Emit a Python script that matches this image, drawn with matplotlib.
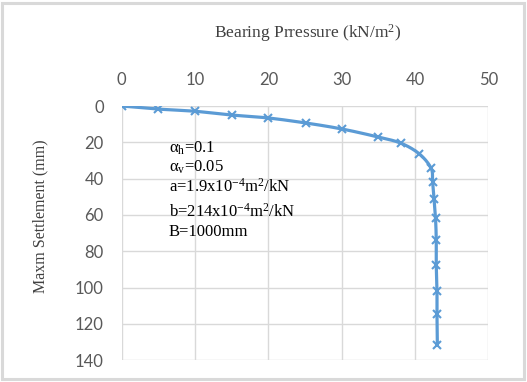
import numpy as np
import matplotlib.pyplot as plt
from matplotlib.patches import Rectangle

# bearing pressure (kN/m2) vs maximum settlement (mm)
pressure = [0, 5.0, 10.0, 15.1, 20.0, 25.2, 30.1, 35.0, 38.1, 40.6, 42.2,
            42.4, 42.6, 42.8, 42.9, 42.9, 43.0, 43.0, 43.05]
settlement = [0, 1.7, 2.9, 5.0, 6.6, 9.4, 12.7, 17.1, 20.5, 26.4, 34.3,
              41.7, 51.2, 61.7, 73.8, 87.4, 101.9, 114.4, 131.6]

x_ticks = [0, 10, 20, 30, 40, 50]
y_ticks = [0, 20, 40, 60, 80, 100, 120, 140]

notes = [r'$\mathrm{\alpha_h}$=0.1',
         r'$\mathrm{\alpha_v}$=0.05',
         r'a=1.9x10$^{\mathrm{-4}}$m$^2$/kN',
         r'b=214x10$^{\mathrm{-4}}$m$^2$/kN',
         'B=1000mm']

plt.rcParams['mathtext.fontset'] = 'custom'
plt.rcParams['mathtext.rm'] = 'Liberation Serif'
plt.rcParams['mathtext.it'] = 'Liberation Serif'


def smooth(xs, ys, n=20):
    # catmull-rom, roughly what excel does for smoothed lines
    p = np.column_stack([xs, ys])
    p = np.vstack([p[0], p, p[-1]])
    out = []
    for i in range(1, len(p) - 2):
        p0, p1, p2, p3 = p[i - 1], p[i], p[i + 1], p[i + 2]
        for t in np.linspace(0, 1, n, endpoint=False):
            t2, t3 = t * t, t * t * t
            out.append(0.5 * ((2 * p1) + (-p0 + p2) * t +
                              (2 * p0 - 5 * p1 + 4 * p2 - p3) * t2 +
                              (-p0 + 3 * p1 - 3 * p2 + p3) * t3))
    out.append(p[-2])
    out = np.array(out)
    return out[:, 0], out[:, 1]


fig = plt.figure(figsize=(5.27, 3.82), dpi=100)
fig.patches.append(Rectangle((0.004, 0.008), 0.99, 0.985, transform=fig.transFigure,
                             fill=False, edgecolor='#d9d9d9', linewidth=2.2))
ax = fig.add_axes([0.2309, 0.0568, 0.6957, 0.6657])

sx, sy = smooth(pressure, settlement)
ax.plot(sx, sy, color='#5b9bd5', linewidth=2.3, zorder=3)
ax.plot(pressure, settlement, linestyle='none', marker='x', markersize=5.5,
        markeredgewidth=1.5, color='#5b9bd5', zorder=4)

ax.set_xlim(0, 50)
ax.set_ylim(140, 0)
ax.set_xticks(x_ticks)
ax.set_yticks(y_ticks)
ax.xaxis.tick_top()
ax.tick_params(length=0, labelsize=12, labelcolor='#595959')
ax.tick_params(axis='y', pad=13)
ax.tick_params(axis='x', pad=13)
for lab in ax.get_xticklabels() + ax.get_yticklabels():
    lab.set_fontfamily('Lato')
ax.grid(True, color='#d9d9d9', linewidth=1)
for s in ax.spines.values():
    s.set_visible(False)
ax.set_axisbelow(True)

fig.text(0.584, 0.913, 'Bearing Prressure (kN/m$^2$)', ha='center', va='center',
         family='Liberation Serif', fontsize=12.5, color='#404040')
fig.text(0.076, 0.435, 'Maxm Settlement (mm)', ha='center', va='center', rotation=90,
         family='Liberation Serif', fontsize=11.5, color='#404040')

note_y = [0.612, 0.562, 0.511, 0.446, 0.393]
for txt, yy in zip(notes, note_y):
    fig.text(0.32, yy, txt, ha='left', va='center', family='Liberation Serif',
             fontsize=12, color='black')

fig.savefig('out.png', dpi=100)
